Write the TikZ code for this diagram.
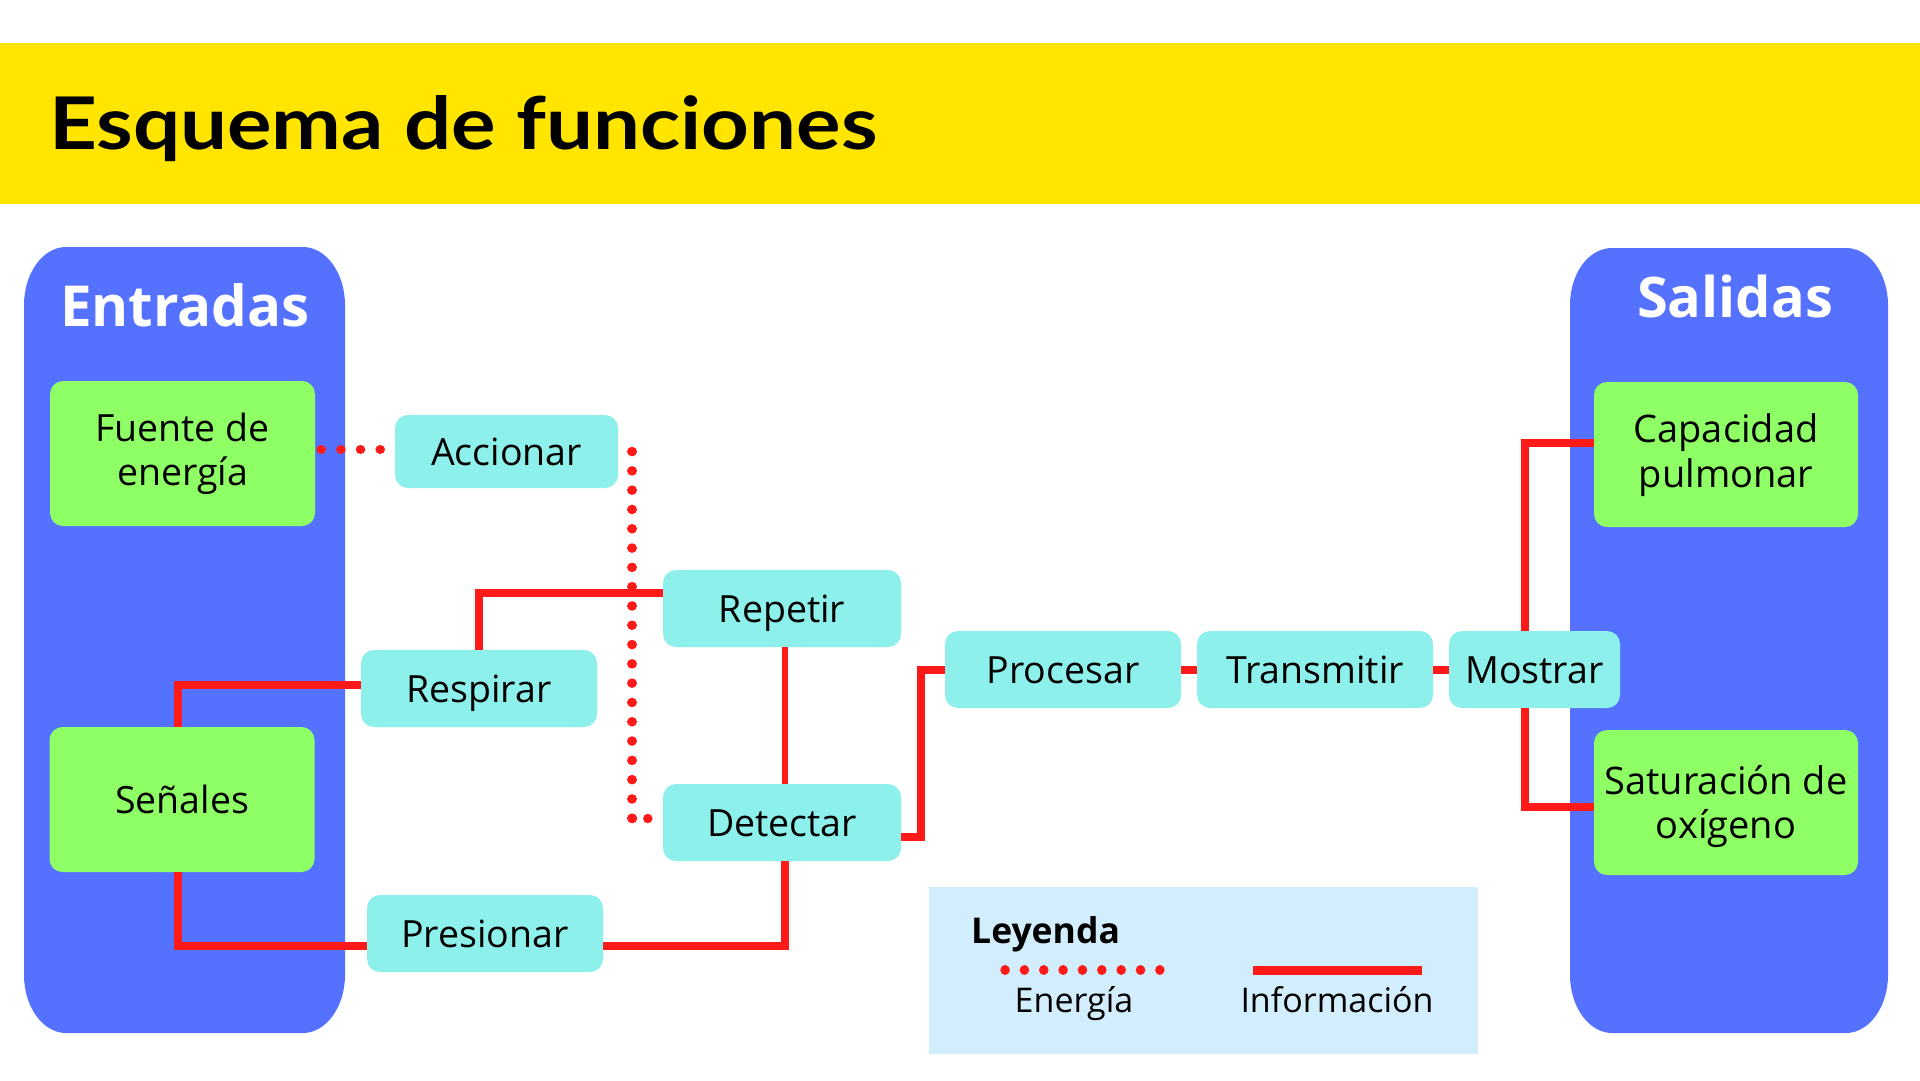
\documentclass[tikz,border=0pt]{standalone}
\usepackage{fontspec}
\usepackage{graphicx}
\setmainfont{Open Sans}
\newfontfamily\titlefont{Lato}
\definecolor{band}{HTML}{FFE500}
\definecolor{panel}{HTML}{5472FF}
\definecolor{gbox}{HTML}{8FFF66}
\definecolor{cbox}{HTML}{8DF0EA}
\definecolor{legbg}{HTML}{D2EEFC}
\definecolor{wire}{HTML}{FF1A1A}
\newcommand\twol[2]{\begin{tabular}[t]{@{}c@{}}#1\\#2\end{tabular}}
\begin{document}
\begin{tikzpicture}[x=1pt,y=-1pt,
  fn/.style={font=\fontsize{37.5}{44}\selectfont},
  box/.style={fn, rounded corners=13pt, inner sep=0pt, text height=30pt, text depth=2pt, minimum height=77pt, minimum width=236pt},
  gbx/.style={box, fill=gbox, minimum width=265pt, minimum height=145pt},
  cbx/.style={box, fill=cbox},
  twoline/.style={text height=10pt, text depth=35pt},
  info/.style={draw=wire, line width=8pt, line cap=butt, line join=miter},
  energy/.style={draw=wire, line width=9.5pt, line cap=round, dash pattern=on 0.1pt off 19.2pt},
]
\useasboundingbox (0,0) rectangle (1920,1080);
\fill[white] (0,0) rectangle (1920,1080);
% title band
\fill[band] (0,43) rectangle (1920,204);
\node[anchor=base west, inner sep=0pt] (title) at (49,149) {\resizebox{828pt}{54pt}{\titlefont\bfseries Esquema de funciones}};
% panels
\fill[panel] (24,305) .. controls (24,273) and (43,247) .. (66,247) -- (303,247) .. controls (326,247) and (345,273) .. (345,305) -- (345,975) .. controls (345,1007) and (326,1033) .. (303,1033) -- (66,1033) .. controls (43,1033) and (24,1007) .. (24,975) -- cycle;
\fill[panel] (1570,305) .. controls (1570,273) and (1589,248) .. (1612,248) -- (1846,248) .. controls (1869,248) and (1888,273) .. (1888,305) -- (1888,975) .. controls (1888,1007) and (1869,1033) .. (1846,1033) -- (1612,1033) .. controls (1589,1033) and (1570,1007) .. (1570,975) -- cycle;
\node[anchor=base, inner sep=0pt, text=white, font=\fontsize{56.5}{60}\selectfont\bfseries] (entradas) at (185,326) {Entradas};
\node[anchor=base, inner sep=0pt, text=white, font=\fontsize{56}{60}\selectfont\bfseries] (salidas) at (1735,317) {Salidas};
% legend box
\fill[legbg] (929,887) rectangle (1478,1054);
\node[anchor=base west, inner sep=0pt, font=\fontsize{35.5}{40}\selectfont\bfseries] (leyenda) at (971,943) {Leyenda};
\node[anchor=base, inner sep=0pt, font=\fontsize{34}{40}\selectfont] (lenergia) at (1074,1012) {Energía};
\node[anchor=base, inner sep=0pt, font=\fontsize{34}{40}\selectfont] (linfo) at (1337,1012) {Información};
\coordinate (le1) at (1005,970);
\coordinate (le2) at (1160,970);
\coordinate (li1) at (1253,970);
\coordinate (li2) at (1422,970);
% nodes
\node[gbx, twoline] (fuente) at (182.5,453.5) {\twol{Fuente de}{energía}};
\node[gbx] (senales) at (182,799.5) {Señales};
\node[cbx, minimum width=223pt, minimum height=73pt] (accionar) at (506.5,451.5) {Accionar};
\node[cbx, minimum width=238pt] (repetir) at (782,608.5) {Repetir};
\node[cbx] (respirar) at (479,688.5) {Respirar};
\node[cbx, minimum width=238pt] (detectar) at (782,822.5) {Detectar};
\node[cbx] (presionar) at (485,933.5) {Presionar};
\node[cbx] (procesar) at (1063,669.5) {Procesar};
\node[cbx] (transmitir) at (1315,669.5) {Transmitir};
\node[cbx, minimum width=171pt] (mostrar) at (1534.5,669.5) {Mostrar};
\node[gbx, minimum width=264pt, twoline, font=\fontsize{38}{45}\selectfont] (capacidad) at (1726,454.5) {\twol{Capacidad}{pulmonar}};
\node[gbx, minimum width=264pt, text height=10pt, text depth=27pt, font=\fontsize{38}{44}\selectfont] (saturacion) at (1726,802.5) {\twol{Saturación de}{oxígeno}};
% information connectors
\draw[info] ([yshift=15.5pt]repetir.west) -| (respirar.north);
\draw[info] ([yshift=3.5pt]respirar.west) -| ([xshift=-4pt]senales.north);
\draw[info] ([xshift=-4pt]senales.south) |- ([yshift=-12.5pt]presionar.west);
\draw[info] ([yshift=-12.5pt]presionar.east) -| ([xshift=3pt]detectar.south);
\draw[info, line width=6pt] ([xshift=3pt]repetir.south) -- ([xshift=3pt]detectar.north);
\draw[info] ([yshift=-14.5pt]detectar.east) -- ++(20,0) |- (procesar.west);
\draw[info] (procesar.east) -- (transmitir.west);
\draw[info] (transmitir.east) -- (mostrar.west);
\draw[info] ([xshift=-10pt]mostrar.north) |- ([yshift=11.5pt]capacidad.west);
\draw[info] ([xshift=-10pt]mostrar.south) |- ([yshift=-4.5pt]saturacion.west);
% energy connectors
\draw[energy, dash pattern=on 0.1pt off 19.55pt] ([xshift=6pt,yshift=4pt]fuente.east) -- ([xshift=-14pt,yshift=2pt]accionar.west);
\coordinate (ea) at ([xshift=14pt]accionar.east);
\coordinate (eb) at ([xshift=-15pt,yshift=4pt]detectar.west);
\coordinate (ec) at (ea |- eb);
\draw[energy, dash pattern=on 0.1pt off 19.2pt] (ea) -- (ec);
\draw[energy, dash pattern=on 0.1pt off 16.5pt] (ec) -- (eb);
\fill[wire] (ec) circle (4.75);
\fill[wire] (eb) circle (4.75);
% legend samples
\draw[energy, dash pattern=on 0.1pt off 19.25pt] (le1) -- (le2);
\draw[info, line width=9pt] (li1) -- (li2);
\end{tikzpicture}
\end{document}
